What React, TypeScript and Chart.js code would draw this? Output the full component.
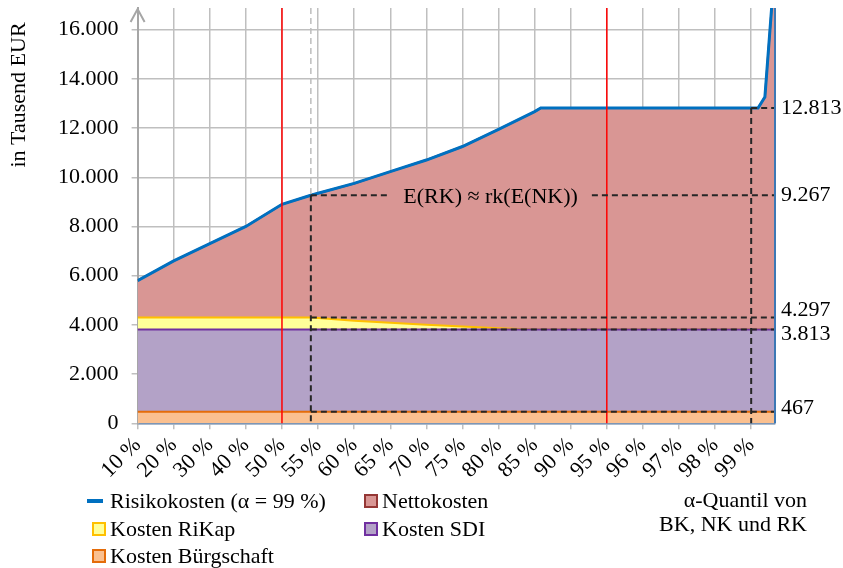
import React, { useEffect, useRef } from 'react';
import { Chart, registerables } from 'chart.js';

Chart.register(...registerables);

const W = 843;
const H = 568;
const FONT = "'Liberation Serif', 'Times New Roman', Times, serif";
const FS = 22;

// x-axis categories (quantile levels), equally spaced
const quantileLabels = ['10 %', '20 %', '30 %', '40 %', '50 %', '55 %', '60 %', '65 %', '70 %', '75 %', '80 %', '85 %', '90 %', '95 %', '96 %', '97 %', '98 %', '99 %'];

// y-axis tick values (Tausend EUR)
const yTickValues = [0, 2000, 4000, 6000, 8000, 10000, 12000, 14000, 16000];

// sample positions along the quantile axis (0 = 10 %, 17 = 99 %)
const positions = [0, 1, 2, 3, 4, 4.8, 5, 6, 7, 8, 9, 10, 11, 11.17, 12, 13, 14, 15, 16, 17, 17.19, 17.38, 17.57, 17.66];

// Risikokosten (alpha = 99 %), in Tausend EUR
const risikokosten = [5800, 6600, 7300, 8000, 8900, 9267, 9350, 9750, 10230, 10700, 11250, 11950, 12670, 12813, 12813, 12813, 12813, 12813, 12813, 12813, 12813, 13264, 16950, 20000];
// stacked components
const kostenBuergschaft = [467, 467, 467, 467, 467, 467, 467, 467, 467, 467, 467, 467, 467, 467, 467, 467, 467, 467, 467, 467, 467, 467, 467, 467];
const kostenSDI = [3346, 3346, 3346, 3346, 3346, 3346, 3346, 3346, 3346, 3346, 3346, 3346, 3346, 3346, 3346, 3346, 3346, 3346, 3346, 3346, 3346, 3346, 3346, 3346];
const kostenRiKap = [484, 484, 484, 484, 484, 484, 465, 360, 270, 190, 120, 55, 0, 0, 0, 0, 0, 0, 0, 0, 0, 0, 0, 0];
const nettokosten = [1503, 2303, 3003, 3703, 4603, 4970, 5072, 5577, 6147, 6697, 7317, 8082, 8857, 9000, 9000, 9000, 9000, 9000, 9000, 9000, 9000, 9451, 13137, 16187];

// markers
const ENK_POS = 4.8; // alpha-quantile of E(NK)
const ALPHA_POS = 17; // 99 %
const redLinePositions = [4, 13]; // 50 %, 95 %
const ANN_POS = 9.78;
const RK_LEVEL = 12813;
const ERK_LEVEL = 9267;
const RIKAP_LEVEL = 4297;
const SDI_LEVEL = 3813;
const BUERG_LEVEL = 467;
const rightLabelValues = [12813, 9267, 4297, 3813, 467];
const rightLabelOffsets = [0, 0, -7, 4.5, -4];

const Y_MAX = 16880;

const fmt = (v: number) => String(Math.round(v)).replace(/\B(?=(\d{3})+(?!\d))/g, '.');

function seg(ctx: CanvasRenderingContext2D, x1: number, y1: number, x2: number, y2: number) {
  ctx.beginPath();
  ctx.moveTo(x1, y1);
  ctx.lineTo(x2, y2);
  ctx.stroke();
}

const overlayPlugin = {
  id: 'overlay',
  afterDatasetsDraw(chart: any) {
    const { ctx, chartArea: ca, scales } = chart;
    const x = scales.x;
    const y = scales.y;
    const xE = x.getPixelForValue(ENK_POS);
    const xA = x.getPixelForValue(ALPHA_POS);
    const yErk = y.getPixelForValue(ERK_LEVEL);
    const yRk = y.getPixelForValue(RK_LEVEL);
    ctx.save();
    // red vertical lines
    ctx.strokeStyle = '#FF0000';
    ctx.lineWidth = 1.5;
    redLinePositions.forEach((p) => {
      const px = x.getPixelForValue(p);
      seg(ctx, px, ca.top, px, ca.bottom);
    });
    // grey dashed above curve
    ctx.setLineDash([6, 4]);
    ctx.strokeStyle = '#BDBDBD';
    ctx.lineWidth = 1.5;
    seg(ctx, xE, ca.top, xE, yErk);
    // black dashed lines
    ctx.strokeStyle = '#262626';
    ctx.lineWidth = 2;
    seg(ctx, xE, yErk, xE, ca.bottom);
    seg(ctx, xA, yRk, xA, ca.bottom);
    seg(ctx, xA, yRk, ca.right, yRk);
    [RIKAP_LEVEL, SDI_LEVEL, BUERG_LEVEL].forEach((v) => {
      const py = y.getPixelForValue(v);
      seg(ctx, xE, py, ca.right, py);
    });
    const annText = 'E(RK) \u2248 rk(E(NK))';
    ctx.font = `${FS}px ${FONT}`;
    const tw = ctx.measureText(annText).width;
    const tx = x.getPixelForValue(ANN_POS);
    seg(ctx, xE, yErk, tx - tw / 2 - 14, yErk);
    seg(ctx, tx + tw / 2 + 14, yErk, ca.right, yErk);
    ctx.setLineDash([]);
    ctx.fillStyle = '#000';
    ctx.textAlign = 'center';
    ctx.textBaseline = 'alphabetic';
    ctx.fillText(annText, tx, yErk + 7.5);
    ctx.restore();
  },
  afterDraw(chart: any) {
    const { ctx, chartArea: ca, scales } = chart;
    const y = scales.y;
    ctx.save();
    // right edge line
    ctx.strokeStyle = '#3C78B5';
    ctx.lineWidth = 2;
    seg(ctx, ca.right, ca.top, ca.right, ca.bottom);
    // y-axis arrow
    ctx.strokeStyle = '#A6A6A6';
    ctx.lineWidth = 2;
    ctx.beginPath();
    ctx.moveTo(ca.left - 7, ca.top + 14);
    ctx.lineTo(ca.left, ca.top + 1);
    ctx.lineTo(ca.left + 7, ca.top + 14);
    ctx.stroke();
    // right value labels
    ctx.fillStyle = '#000';
    ctx.font = `${FS}px ${FONT}`;
    ctx.textAlign = 'left';
    ctx.textBaseline = 'middle';
    rightLabelValues.forEach((v, i) => {
      ctx.fillText(fmt(v), ca.right + 6, y.getPixelForValue(v) + rightLabelOffsets[i]);
    });
    // y title
    ctx.save();
    ctx.translate(25, 95);
    ctx.rotate(-Math.PI / 2);
    ctx.textAlign = 'center';
    ctx.textBaseline = 'alphabetic';
    ctx.fillText('in Tausend EUR', 0, 0);
    ctx.restore();
    // legend
    ctx.textAlign = 'left';
    ctx.textBaseline = 'alphabetic';
    const rows = [508, 536, 563];
    ctx.strokeStyle = '#0070C0';
    ctx.lineWidth = 4;
    seg(ctx, 87, rows[0] - 7, 103, rows[0] - 7);
    ctx.fillText('Risikokosten (\u03B1 = 99 %)', 110, rows[0]);
    const box = (bx: number, by: number, fill: string, stroke: string) => {
      ctx.fillStyle = fill;
      ctx.fillRect(bx, by - 13, 12, 12);
      ctx.strokeStyle = stroke;
      ctx.lineWidth = 2;
      ctx.strokeRect(bx, by - 13, 12, 12);
      ctx.fillStyle = '#000';
    };
    box(365, rows[0], '#D99694', '#953735');
    ctx.fillText('Nettokosten', 382, rows[0]);
    box(93, rows[1], '#FFFF99', '#FFC000');
    ctx.fillText('Kosten RiKap', 110, rows[1]);
    box(365, rows[1], '#B3A2C7', '#7030A0');
    ctx.fillText('Kosten SDI', 382, rows[1]);
    box(93, rows[2], '#FAC090', '#E46C0A');
    ctx.fillText('Kosten B\u00FCrgschaft', 110, rows[2]);
    // note
    ctx.textAlign = 'right';
    ctx.fillText('\u03B1-Quantil von', 807, 507);
    ctx.fillText('BK, NK und RK', 807, 531);
    ctx.restore();
  },
};

export default function App() {
  const ref = useRef<HTMLCanvasElement>(null);
  useEffect(() => {
    const pts = (arr: number[]) => positions.map((p, i) => ({ x: p, y: arr[i] }));
    const common = { pointRadius: 0, pointHoverRadius: 0, tension: 0 };
    const chart = new Chart(ref.current as HTMLCanvasElement, {
      type: 'line',
      data: {
        datasets: [
          { ...common, label: 'Risikokosten (\u03B1 = 99 %)', data: pts(risikokosten), borderColor: '#0070C0', borderWidth: 3, fill: false, stack: 'rk' },
          { ...common, label: 'Kosten B\u00FCrgschaft', data: pts(kostenBuergschaft), backgroundColor: '#FAC090', borderColor: '#E46C0A', borderWidth: 2, fill: 'origin', stack: 'k' },
          { ...common, label: 'Kosten SDI', data: pts(kostenSDI), backgroundColor: '#B3A2C7', borderColor: '#7030A0', borderWidth: 2, fill: '-1', stack: 'k' },
          { ...common, label: 'Kosten RiKap', data: pts(kostenRiKap), backgroundColor: '#FFFF99', borderColor: '#FFC000', borderWidth: 2, fill: '-1', stack: 'k' },
          { ...common, label: 'Nettokosten', data: pts(nettokosten), backgroundColor: '#D99694', borderColor: '#953735', borderWidth: 2, fill: '-1', stack: 'k' },
        ] as any,
      },
      options: {
        animation: false,
        responsive: false,
        devicePixelRatio: 1,
        layout: { padding: { left: 0, top: 8, right: W - 775, bottom: H - 423.3 - 60 } },
        plugins: { legend: { display: false }, tooltip: { enabled: false }, title: { display: false } },
        scales: {
          x: {
            type: 'linear',
            min: 0,
            max: 17.66,
            afterBuildTicks: (s: any) => {
              s.ticks = quantileLabels.map((_, i) => ({ value: i }));
            },
            afterFit: (s: any) => {
              s.height = 60;
              s.paddingLeft = 0;
              s.paddingRight = 0;
            },
            grid: { color: '#BFBFBF', lineWidth: 1.5, tickLength: 6 },
            border: { color: '#7A96B8', width: 1.5 },
            ticks: {
              autoSkip: false,
              minRotation: 45,
              maxRotation: 45,
              padding: 3,
              color: '#000',
              font: { family: FONT, size: FS },
              callback: (_v: any, i: number) => quantileLabels[i] ?? '',
            },
          },
          y: {
            stacked: true,
            min: 0,
            max: Y_MAX,
            afterBuildTicks: (s: any) => {
              s.ticks = yTickValues.map((v) => ({ value: v }));
            },
            afterFit: (s: any) => {
              s.width = 137.6;
              s.paddingTop = 0;
              s.paddingBottom = 0;
            },
            grid: { color: '#BFBFBF', lineWidth: 1.5, tickLength: 6 },
            border: { color: '#A6A6A6', width: 2 },
            ticks: {
              autoSkip: false,
              padding: 13,
              color: '#000',
              font: { family: FONT, size: FS },
              callback: (v: any) => fmt(Number(v)),
            },
          },
        },
      } as any,
      plugins: [overlayPlugin],
    });
    return () => chart.destroy();
  }, []);
  return (
    <div style={{ position: 'fixed', left: 0, top: 0, width: W, height: H, background: '#fff' }}>
      <canvas ref={ref} width={W} height={H} style={{ display: 'block', width: W, height: H }} />
    </div>
  );
}
